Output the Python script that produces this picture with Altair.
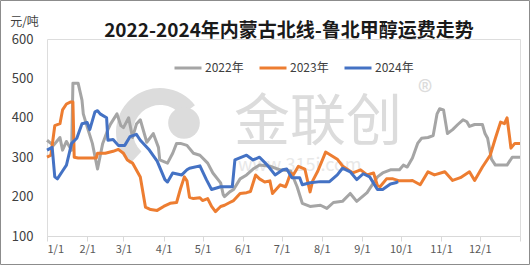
import altair as alt
import pandas as pd

# ---- data (day of year, value in 元/吨) ----
years = ["2022年", "2023年", "2024年"]
colors = ["#a5a5a5", "#ed7d31", "#4472c4"]

days_2022 = [0, 5, 10, 12, 15, 19, 20, 24, 27, 28, 31, 35, 39, 43, 47, 49, 54, 57, 59, 63, 66, 69, 72, 77,
             82, 86, 87, 93, 97, 100, 103, 108, 113, 118, 124, 128, 134, 136, 137, 141, 144, 149, 154, 159,
             164, 172, 180, 188, 193, 197, 203, 211, 216, 221, 228, 234, 239, 247, 255, 259, 265, 272, 275,
             278, 282, 286, 289, 294, 298, 301, 303, 306, 309, 313, 317, 321, 324, 326, 330, 336, 338, 340,
             343, 346, 355, 359, 365]
vals_2022 = [343, 330, 350, 318, 340, 318, 488, 488, 445, 410, 377, 335, 270, 335, 370, 384, 410, 380, 375, 400,
             350, 384, 395, 338, 360, 325, 293, 285, 310, 335, 335, 330, 310, 305, 285, 260, 235, 205, 200, 212,
             218, 245, 255, 270, 280, 277, 268, 265, 225, 183, 175, 178, 170, 185, 188, 208, 188, 210, 250, 260,
             268, 268, 280, 275, 298, 335, 348, 350, 355, 410, 423, 420, 360, 370, 383, 395, 390, 378, 383, 383,
             360, 348, 295, 280, 280, 300, 300]

days_2023 = [0, 3, 6, 10, 12, 15, 18, 20, 21, 24, 38, 39, 45, 51, 55, 59, 62, 66, 72, 76, 80, 85, 90, 95, 100,
             103, 106, 108, 110, 113, 118, 120, 124, 127, 130, 134, 137, 141, 144, 149, 154, 157, 161, 164, 168,
             172, 174, 180, 184, 185, 188, 190, 194, 199, 203, 205, 209, 215, 220, 224, 228, 236, 242, 247, 252,
             255, 257, 262, 267, 272, 280, 282, 288, 294, 299, 307, 313, 319, 326, 330, 336, 342, 346, 350, 353,
             355, 357, 358, 361, 365]
vals_2023 = [300, 305, 380, 385, 420, 435, 440, 440, 300, 298, 298, 310, 310, 315, 320, 310, 293, 285, 250, 173,
             167, 165, 175, 183, 185, 220, 250, 240, 198, 195, 197, 190, 195, 175, 162, 175, 178, 185, 190, 208,
             210, 213, 255, 245, 237, 240, 208, 230, 225, 232, 260, 255, 277, 270, 212, 240, 265, 313, 303, 295,
             278, 260, 268, 255, 260, 228, 225, 245, 245, 240, 240, 241, 230, 263, 255, 263, 241, 248, 263, 241,
             275, 305, 348, 389, 385, 400, 350, 323, 335, 335]

days_2024 = [0, 4, 6, 8, 12, 15, 19, 23, 27, 31, 33, 37, 39, 41, 46, 47, 51, 55, 60, 64, 69, 72, 79, 85, 91,
             93, 97, 104, 108, 110, 118, 123, 127, 134, 143, 145, 154, 159, 164, 170, 176, 182, 185, 189, 195,
             197, 203, 211, 218, 224, 228, 234, 239, 244, 249, 255, 259, 265, 269, 271]
vals_2024 = [318, 325, 250, 245, 265, 280, 335, 348, 385, 388, 370, 415, 418, 410, 400, 343, 345, 330, 330, 352,
             358, 343, 318, 290, 243, 237, 260, 255, 268, 272, 278, 243, 218, 225, 225, 293, 305, 293, 300, 280,
             255, 268, 270, 248, 248, 230, 235, 238, 238, 255, 272, 263, 243, 258, 250, 218, 218, 232, 235, 238]

month_days = [0, 31, 59, 90, 120, 151, 181, 212, 243, 273, 304, 334, 365]
month_labels = ["1/1", "2/1", "3/1", "4/1", "5/1", "6/1", "7/1", "8/1", "9/1", "10/1", "11/1", "12/1", ""]
y_ticks = [100, 200, 300, 400, 500, 600]
title_text = "2022-2024年内蒙古北线-鲁北甲醇运费走势"

rows = []
for yr, ds, vs in [(years[0], days_2022, vals_2022), (years[1], days_2023, vals_2023), (years[2], days_2024, vals_2024)]:
    for d, v in zip(ds, vs):
        rows.append({"year": yr, "day": d, "value": v})
df = pd.DataFrame(rows)

label_expr = "''"
for d, l in reversed(list(zip(month_days, month_labels))):
    label_expr = f"datum.value == {d} ? '{l}' : ({label_expr})"

FONT = "Noto Sans CJK SC"
W, H = 473, 197
L, T = 47, 39
WM = "#dcdcdc"

one = pd.DataFrame({"a": [0]})

border = alt.Chart(one).mark_rect(fillOpacity=0, stroke="#8c8c8c", strokeWidth=1).encode(
    x=alt.value(-L + 0.5), x2=alt.value(530 - L - 0.5),
    y=alt.value(-T + 0.5), y2=alt.value(265 - T - 0.5))

logo_ring = alt.Chart(one).mark_arc(innerRadius=27, outerRadius=44, theta=3.9, theta2=7.2, color=WM).encode(
    x=alt.value(160 - L), y=alt.value(132 - T))
logo_dot = alt.Chart(one).mark_point(shape="circle", filled=True, size=1000, opacity=1, color=WM).encode(
    x=alt.value(184 - L), y=alt.value(123 - T))

wm1 = alt.Chart(pd.DataFrame({"t": ["金联创"]})).mark_text(
    font=FONT, fontSize=56, color=WM, align="center", baseline="middle").encode(
    text="t:N", x=alt.value(318 - L), y=alt.value(123 - T))
wm2 = alt.Chart(pd.DataFrame({"t": ["®"]})).mark_text(
    font=FONT, fontSize=30, color=WM, align="center", baseline="middle").encode(
    text="t:N", x=alt.value(425 - L), y=alt.value(94 - T))
wm3 = alt.Chart(pd.DataFrame({"t": ["www.315i.com"]})).mark_text(
    font=FONT, fontSize=18, color="#e8e8e8", align="left", baseline="middle").encode(
    text="t:N", x=alt.value(238 - L), y=alt.value(166 - T))

title = alt.Chart(pd.DataFrame({"t": [title_text]})).mark_text(
    font=FONT, fontSize=19, fontWeight="bold", color="#1a1a1a", align="center", baseline="alphabetic").encode(
    text="t:N", x=alt.value(289 - L), y=alt.value(37 - T))

lines = alt.Chart(df).mark_line(strokeWidth=3, strokeJoin="round").encode(
    x=alt.X("day:Q", scale=alt.Scale(domain=[0, 365], nice=False, zero=False),
            axis=alt.Axis(values=month_days, labelExpr=label_expr, grid=False, title=None,
                          domainColor="#d9d9d9", tickColor="#d9d9d9", tickSize=5, zindex=1,
                          labelFont=FONT, labelFontSize=11, labelColor="#595959", labelPadding=2)),
    y=alt.Y("value:Q", scale=alt.Scale(domain=[100, 600], nice=False, zero=False),
            axis=alt.Axis(values=y_ticks, grid=False, domain=False, ticks=False, zindex=1,
                          labelFont=FONT, labelFontSize=13, labelColor="#404040", labelPadding=14,
                          title="元/吨", titleAngle=0, titleX=-23, titleY=-14, titleAlign="center",
                          titleBaseline="alphabetic", titleFont=FONT, titleFontSize=12,
                          titleFontWeight="normal", titleColor="#404040")),
    color=alt.Color("year:N", scale=alt.Scale(domain=years, range=colors),
                    legend=alt.Legend(orient="none", legendX=173 - L, legendY=14, direction="horizontal",
                                      title=None, symbolType="stroke", symbolSize=729, symbolStrokeWidth=3,
                                      labelFont=FONT, labelFontSize=12, labelColor="#404040",
                                      labelOffset=2, columnPadding=9)),
    order=alt.Order("day:Q"),
)

chart = alt.layer(logo_ring, logo_dot, wm1, wm2, wm3, lines, title, border).properties(
    width=W, height=H, autosize=alt.AutoSizeParams(type="none"),
    padding={"left": L, "top": T, "right": 530 - L - W, "bottom": 265 - T - H},
).configure_view(stroke=None).configure(background="white")

chart.save("out.html", embed_options={"renderer": "svg", "actions": False})
